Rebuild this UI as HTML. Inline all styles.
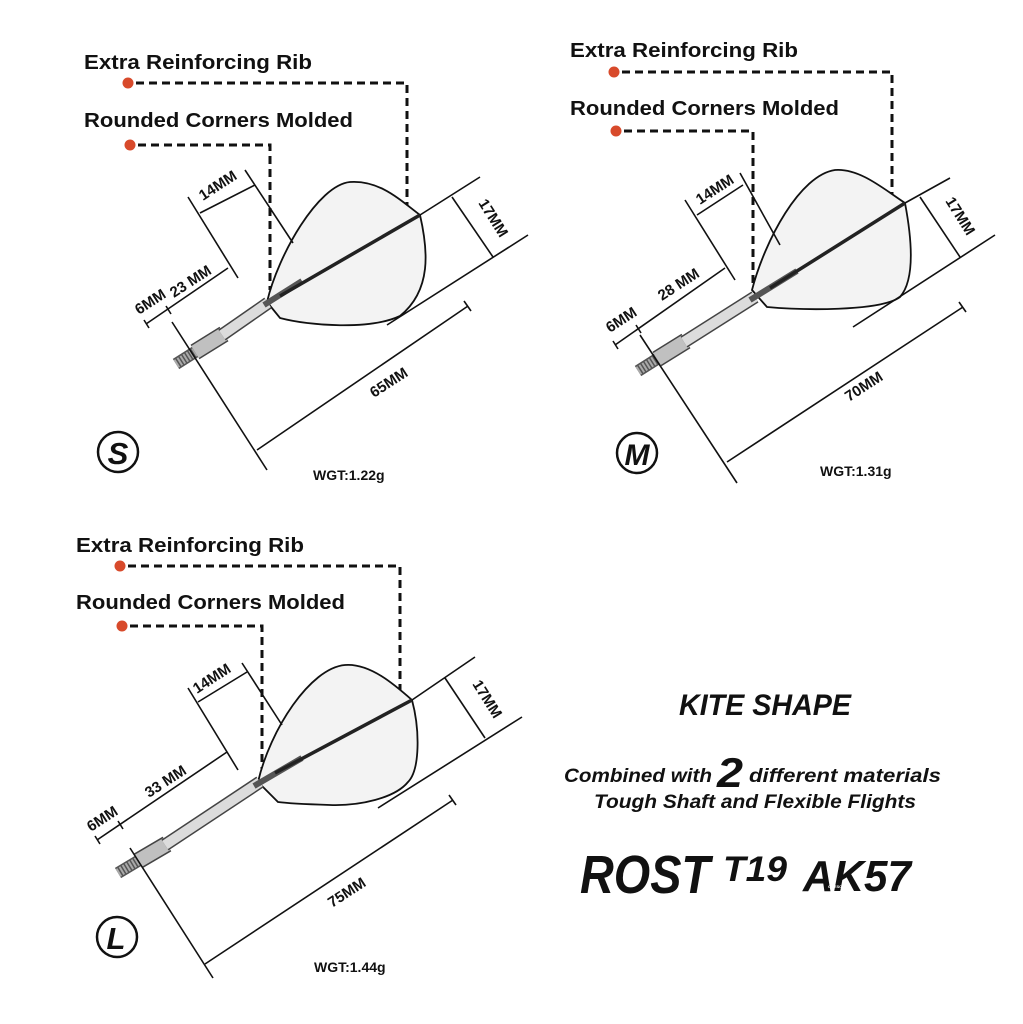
<!DOCTYPE html>
<html><head><meta charset="utf-8"><style>
html,body{margin:0;padding:0;background:#fff}
svg{display:block}
.c{font-family:"Liberation Sans",sans-serif;font-weight:bold;font-size:20px;fill:#111}
.d{font-family:"Liberation Sans",sans-serif;font-weight:bold;font-size:15px;fill:#111}
.w{font-family:"Liberation Sans",sans-serif;font-weight:bold;font-size:14px;fill:#111}
.dash{stroke:#111;stroke-width:3;stroke-dasharray:8 5;fill:none}
.ln{stroke:#111;stroke-width:1.6;fill:none}
.fl{fill:#f3f3f3;stroke:#111;stroke-width:1.8}
.r{font-family:"Liberation Sans",sans-serif;font-weight:bold;font-style:italic;fill:#111}
</style></head><body>
<svg width="1023" height="1024" viewBox="0 0 1023 1024" xmlns="http://www.w3.org/2000/svg">
<rect width="1023" height="1024" fill="#fff"/>

<!-- ================= S ================= -->
<text class="c" x="84" y="69" textLength="228" lengthAdjust="spacingAndGlyphs">Extra Reinforcing Rib</text>
<circle cx="128" cy="83" r="5.5" fill="#d84a2b"/>
<path class="dash" d="M136,83 H407 V207"/>
<text class="c" x="84" y="127" textLength="269" lengthAdjust="spacingAndGlyphs">Rounded Corners Molded</text>
<circle cx="130" cy="145" r="5.5" fill="#d84a2b"/>
<path class="dash" d="M138,145 H270 V290"/>

<path class="fl" d="M267,302 C278,255 318,185 350,182 C380,180 400,200 420,215 C428,250 432,290 400,316 C370,330 310,326 280,318 Z"/>
<line x1="176" y1="364" x2="195" y2="352" stroke="#555" stroke-width="12"/>
<line x1="176" y1="364" x2="195" y2="352" stroke="#aaa" stroke-width="9" stroke-dasharray="2 1.5"/>
<line x1="195" y1="352" x2="224" y2="334" stroke="#444" stroke-width="17"/>
<line x1="195" y1="352" x2="224" y2="334" stroke="#c0c0c0" stroke-width="14"/>
<line x1="222" y1="335" x2="268" y2="303" stroke="#444" stroke-width="13"/>
<line x1="222" y1="335" x2="268" y2="303" stroke="#dcdcdc" stroke-width="10"/>
<line x1="264" y1="305" x2="302" y2="281" stroke="#555" stroke-width="6"/>
<line x1="280" y1="296" x2="420" y2="215" stroke="#222" stroke-width="3.5"/>

<line class="ln" x1="420" y1="215" x2="480" y2="177"/>
<line class="ln" x1="387" y1="325" x2="528" y2="235"/>
<line class="ln" x1="452" y1="197" x2="493" y2="257"/>
<text class="d" transform="translate(478,203) rotate(58)">17MM</text>
<line class="ln" x1="172" y1="322" x2="267" y2="470"/>
<line class="ln" x1="257" y1="450" x2="468" y2="306"/>
<line class="ln" x1="464" y1="301" x2="471" y2="311"/>
<text class="d" transform="translate(374,398) rotate(-33)">65MM</text>
<line class="ln" x1="188" y1="197" x2="238" y2="278"/>
<line class="ln" x1="245" y1="170" x2="293" y2="243"/>
<line class="ln" x1="200" y1="213" x2="255" y2="185"/>
<text class="d" transform="translate(203,201) rotate(-33)">14MM</text>
<line class="ln" x1="146" y1="324" x2="228" y2="268"/>
<line class="ln" x1="144" y1="320" x2="149" y2="328"/>
<line class="ln" x1="166" y1="306" x2="171" y2="314"/>
<text class="d" transform="translate(139,315) rotate(-33)">6MM</text>
<text class="d" transform="translate(174,298) rotate(-33)">23 MM</text>
<circle cx="118" cy="452" r="20" fill="none" stroke="#111" stroke-width="2.5"/>
<text class="r" x="118" y="464" text-anchor="middle" font-size="31">S</text>
<text class="w" x="313" y="480">WGT:1.22g</text>

<!-- ================= M ================= -->
<text class="c" x="570" y="57" textLength="228" lengthAdjust="spacingAndGlyphs">Extra Reinforcing Rib</text>
<circle cx="614" cy="72" r="5.5" fill="#d84a2b"/>
<path class="dash" d="M622,72 H892 V200"/>
<text class="c" x="570" y="115" textLength="269" lengthAdjust="spacingAndGlyphs">Rounded Corners Molded</text>
<circle cx="616" cy="131" r="5.5" fill="#d84a2b"/>
<path class="dash" d="M624,131 H753 V285"/>

<path class="fl" d="M752,290 C765,240 800,175 835,170 C860,168 885,190 905,203 C912,240 915,280 900,297 C880,312 800,310 767,307 Z"/>
<line x1="638" y1="371" x2="657" y2="359" stroke="#555" stroke-width="12"/>
<line x1="638" y1="371" x2="657" y2="359" stroke="#aaa" stroke-width="9" stroke-dasharray="2 1.5"/>
<line x1="657" y1="359" x2="686" y2="341" stroke="#444" stroke-width="17"/>
<line x1="657" y1="359" x2="686" y2="341" stroke="#c0c0c0" stroke-width="14"/>
<line x1="684" y1="342" x2="755" y2="297" stroke="#444" stroke-width="13"/>
<line x1="684" y1="342" x2="755" y2="297" stroke="#dcdcdc" stroke-width="10"/>
<line x1="750" y1="300" x2="797" y2="271" stroke="#555" stroke-width="6"/>
<line x1="770" y1="288" x2="905" y2="203" stroke="#222" stroke-width="3.5"/>

<line class="ln" x1="905" y1="203" x2="950" y2="178"/>
<line class="ln" x1="853" y1="327" x2="995" y2="235"/>
<line class="ln" x1="920" y1="197" x2="960" y2="257"/>
<text class="d" transform="translate(945,201) rotate(58)">17MM</text>
<line class="ln" x1="640" y1="335" x2="737" y2="483"/>
<line class="ln" x1="727" y1="462" x2="963" y2="307"/>
<line class="ln" x1="959" y1="302" x2="966" y2="312"/>
<text class="d" transform="translate(849,402) rotate(-33)">70MM</text>
<line class="ln" x1="685" y1="200" x2="735" y2="280"/>
<line class="ln" x1="740" y1="173" x2="780" y2="245"/>
<line class="ln" x1="697" y1="215" x2="743" y2="185"/>
<text class="d" transform="translate(700,205) rotate(-33)">14MM</text>
<line class="ln" x1="615" y1="345" x2="725" y2="268"/>
<line class="ln" x1="613" y1="341" x2="618" y2="349"/>
<line class="ln" x1="636" y1="325" x2="641" y2="333"/>
<text class="d" transform="translate(610,333) rotate(-33)">6MM</text>
<text class="d" transform="translate(662,301) rotate(-33)">28 MM</text>
<circle cx="637" cy="453" r="20" fill="none" stroke="#111" stroke-width="2.5"/>
<text class="r" x="637" y="465" text-anchor="middle" font-size="30">M</text>
<text class="w" x="820" y="476">WGT:1.31g</text>

<!-- ================= L ================= -->
<text class="c" x="76" y="552" textLength="228" lengthAdjust="spacingAndGlyphs">Extra Reinforcing Rib</text>
<circle cx="120" cy="566" r="5.5" fill="#d84a2b"/>
<path class="dash" d="M128,566 H400 V695"/>
<text class="c" x="76" y="609" textLength="269" lengthAdjust="spacingAndGlyphs">Rounded Corners Molded</text>
<circle cx="122" cy="626" r="5.5" fill="#d84a2b"/>
<path class="dash" d="M130,626 H262 V780"/>

<path class="fl" d="M258,782 C270,730 310,668 345,665 C370,663 395,685 412,700 C420,730 420,770 408,782 C395,798 360,806 330,805 C300,804 285,803 278,802 Z"/>
<line x1="118" y1="873" x2="138" y2="861" stroke="#555" stroke-width="12"/>
<line x1="118" y1="873" x2="138" y2="861" stroke="#aaa" stroke-width="9" stroke-dasharray="2 1.5"/>
<line x1="138" y1="861" x2="167" y2="844" stroke="#444" stroke-width="17"/>
<line x1="138" y1="861" x2="167" y2="844" stroke="#c0c0c0" stroke-width="14"/>
<line x1="165" y1="845" x2="260" y2="782" stroke="#444" stroke-width="13"/>
<line x1="165" y1="845" x2="260" y2="782" stroke="#dcdcdc" stroke-width="10"/>
<line x1="254" y1="786" x2="302" y2="758" stroke="#555" stroke-width="6"/>
<line x1="275" y1="773" x2="412" y2="700" stroke="#222" stroke-width="3.5"/>

<line class="ln" x1="412" y1="700" x2="475" y2="657"/>
<line class="ln" x1="378" y1="808" x2="522" y2="717"/>
<line class="ln" x1="445" y1="678" x2="485" y2="738"/>
<text class="d" transform="translate(472,684) rotate(58)">17MM</text>
<line class="ln" x1="130" y1="848" x2="213" y2="978"/>
<line class="ln" x1="205" y1="964" x2="453" y2="800"/>
<line class="ln" x1="449" y1="795" x2="456" y2="805"/>
<text class="d" transform="translate(332,908) rotate(-33)">75MM</text>
<line class="ln" x1="188" y1="688" x2="238" y2="770"/>
<line class="ln" x1="242" y1="663" x2="282" y2="725"/>
<line class="ln" x1="198" y1="702" x2="247" y2="672"/>
<text class="d" transform="translate(197,694) rotate(-33)">14MM</text>
<line class="ln" x1="97" y1="840" x2="227" y2="752"/>
<line class="ln" x1="95" y1="836" x2="100" y2="844"/>
<line class="ln" x1="118" y1="821" x2="123" y2="829"/>
<text class="d" transform="translate(91,832) rotate(-33)">6MM</text>
<text class="d" transform="translate(149,798) rotate(-33)">33 MM</text>
<circle cx="117" cy="937" r="20" fill="none" stroke="#111" stroke-width="2.5"/>
<text class="r" x="116" y="949" text-anchor="middle" font-size="31">L</text>
<text class="w" x="314" y="972">WGT:1.44g</text>

<!-- ================= Right text ================= -->
<text class="r" x="679" y="715" font-size="30" textLength="172" lengthAdjust="spacingAndGlyphs">KITE SHAPE</text>
<text class="r" x="564" y="782" font-size="19" textLength="148" lengthAdjust="spacingAndGlyphs">Combined with</text>
<text class="r" x="717" y="787" font-size="42" textLength="26" lengthAdjust="spacingAndGlyphs">2</text>
<text class="r" x="749" y="782" font-size="19" textLength="192" lengthAdjust="spacingAndGlyphs">different materials</text>
<text class="r" x="594" y="808" font-size="19" textLength="322" lengthAdjust="spacingAndGlyphs">Tough Shaft and Flexible Flights</text>
<text class="r" x="580" y="893" font-size="54" textLength="130" lengthAdjust="spacingAndGlyphs">ROST</text>
<text class="r" x="723" y="881" font-size="35" textLength="64" lengthAdjust="spacingAndGlyphs">T19</text>
<text class="r" x="803" y="891" font-size="44" textLength="108" lengthAdjust="spacingAndGlyphs">AK57</text>
<text x="828" y="888" font-family="Liberation Sans,sans-serif" font-weight="bold" font-size="4" fill="#fff">CUESOUL</text>
</svg>
</body></html>
